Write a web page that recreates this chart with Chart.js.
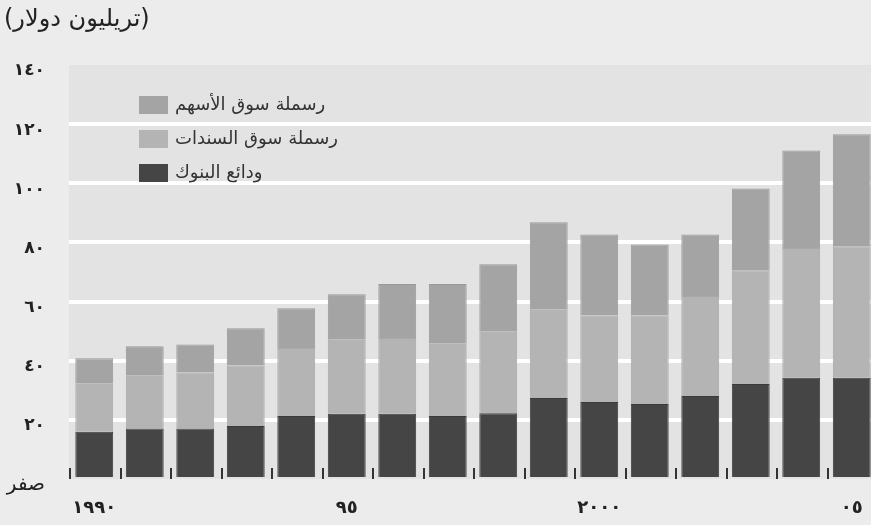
<!DOCTYPE html>
<html>
<head>
<meta charset="utf-8">
<script src="https://cdn.jsdelivr.net/npm/chart.js@4"></script>
<style>
  html, body { margin: 0; padding: 0; background: #ececec; overflow: hidden; }
  #wrap { width: 877px; height: 525px; }
</style>
</head>
<body>
<div id="wrap"><canvas id="marketChart"></canvas></div>
<script>
// years 1990 - 2005, only some get a label
const yearLabels = ["١٩٩٠", "", "", "", "", "٩٥", "", "", "", "", "٢٠٠٠", "", "", "", "", "٠٥"];
const yTickLabels = ["صفر", "٢٠", "٤٠", "٦٠", "٨٠", "١٠٠", "١٢٠", "١٤٠"];

// trillion dollars
const bankDeposits = [16.0, 17.1, 17.1, 17.9, 21.3, 22.1, 22.1, 21.3, 22.2, 27.4, 26.0, 25.4, 28.1, 32.1, 34.2, 34.2];
const bondMarket = [16.2, 17.8, 18.9, 20.5, 23.0, 25.0, 25.6, 24.4, 27.6, 29.8, 29.3, 29.9, 33.8, 38.5, 43.9, 44.5];
const equityMarket = [8.6, 10.0, 9.5, 12.6, 13.4, 15.4, 18.2, 20.2, 22.8, 29.6, 27.4, 24.0, 20.8, 27.6, 33.0, 37.9];

const titleText = "(تريليون دولار)";
const arabicFont = "'DejaVu Sans', sans-serif";

// grey plot background
const plotBackground = {
  id: "plotBackground",
  beforeDraw(chart) {
    const { ctx, chartArea } = chart;
    ctx.save();
    ctx.fillStyle = "#e3e3e3";
    ctx.fillRect(chartArea.left, chartArea.top, chartArea.right - chartArea.left, chartArea.bottom - chartArea.top);
    ctx.restore();
  },
};

// small marks between the bars, title and legend inside the plot
const extras = {
  id: "extras",
  afterDraw(chart) {
    const { ctx, chartArea } = chart;
    const x = chart.scales.x;
    const step = x.getPixelForValue(1) - x.getPixelForValue(0);
    ctx.save();
    ctx.strokeStyle = "#333";
    ctx.lineWidth = 2;
    for (let i = 0; i < yearLabels.length; i++) {
      const px = Math.round(x.getPixelForValue(i) - step / 2) + 1;
      ctx.beginPath();
      ctx.moveTo(px, chartArea.bottom);
      ctx.lineTo(px, chartArea.bottom - 11);
      ctx.stroke();
    }

    // title
    ctx.fillStyle = "#222";
    ctx.font = "24px " + arabicFont;
    ctx.textBaseline = "middle";
    ctx.textAlign = "left";
    ctx.fillText(titleText, 4, 20);

    // legend, top item first
    const items = chart.data.datasets.slice().reverse();
    ctx.font = "18px " + arabicFont;
    items.forEach((ds, i) => {
      const y = chartArea.top + 40 + i * 34;
      ctx.fillStyle = ds.backgroundColor;
      ctx.fillRect(chartArea.left + 70, y - 9, 29, 18);
      ctx.fillStyle = "#333";
      ctx.fillText(ds.label, chartArea.left + 106, y);
    });
    ctx.restore();
  },
};

const ctx = document.getElementById("marketChart").getContext("2d");
new Chart(ctx, {
  type: "bar",
  data: {
    labels: yearLabels,
    datasets: [
      {
        label: "ودائع البنوك",
        data: bankDeposits,
        backgroundColor: "#454545",
        borderColor: "#3a3a3a",
        borderWidth: 1,
      },
      {
        label: "رسملة سوق السندات",
        data: bondMarket,
        backgroundColor: "#b4b4b4",
        borderColor: "#a8a8a8",
        borderWidth: 1,
      },
      {
        label: "رسملة سوق الأسهم",
        data: equityMarket,
        backgroundColor: "#a4a4a4",
        borderColor: "#999999",
        borderWidth: 1,
      },
    ],
  },
  options: {
    responsive: true,
    maintainAspectRatio: false,
    animation: false,
    devicePixelRatio: 1,
    categoryPercentage: 1,
    barPercentage: 0.75,
    layout: { padding: { top: 65, right: 0, left: 0, bottom: 0 } },
    plugins: {
      legend: { display: false },
      tooltip: { enabled: false },
    },
    scales: {
      x: {
        stacked: true,
        offset: true,
        afterFit(scale) {
          scale.height = 46;
        },
        grid: { display: false },
        border: { display: false },
        ticks: {
          color: "#222",
          font: { family: arabicFont, size: 18, weight: "bold" },
          padding: 11,
          maxRotation: 0,
          autoSkip: false,
        },
      },
      y: {
        stacked: true,
        min: 0,
        max: 140,
        afterFit(scale) {
          scale.width = 69;
        },
        border: { display: false },
        grid: {
          drawTicks: false,
          lineWidth: 4,
          color: (c) => (c.tick.value === 0 || c.tick.value === 140 ? "rgba(0,0,0,0)" : "#ffffff"),
        },
        ticks: {
          stepSize: 20,
          color: "#222",
          // zero is a word, not bold
          font: (c) =>
            c.tick && c.tick.value === 0
              ? { family: arabicFont, size: 20 }
              : { family: arabicFont, size: 17, weight: "bold" },
          padding: 24,
          labelOffset: 6,
          callback: (value) => yTickLabels[value / 20],
        },
      },
    },
  },
  plugins: [plotBackground, extras],
});
</script>
</body>
</html>
